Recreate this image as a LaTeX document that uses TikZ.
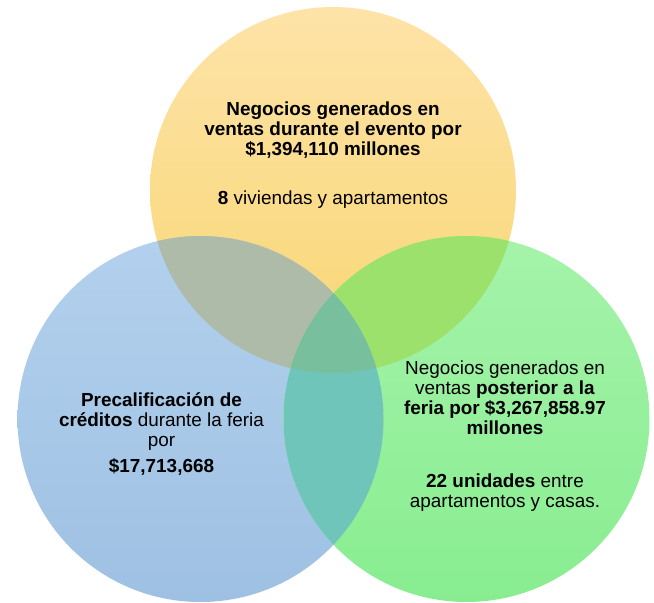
\documentclass[tikz,border=0pt]{standalone}
\usepackage{fontspec}
\setmainfont{Liberation Sans}
\definecolor{ytop}{HTML}{FEE3A8}
\definecolor{ybot}{HTML}{F8D672}
\definecolor{btop}{HTML}{B3D1EE}
\definecolor{bbot}{HTML}{9EC0E2}
\definecolor{gtop}{HTML}{A5F3AA}
\definecolor{gbot}{HTML}{88ED90}
\definecolor{yb}{HTML}{AEBBA8}
\definecolor{yg}{HTML}{9CE16B}
\definecolor{bg}{HTML}{70C5BA}
\definecolor{ybg}{HTML}{78BF9E}
\tikzset{
  txt/.style={align=center, inner sep=0pt, text=black, font=\fontsize{18.9}{20}\selectfont},
}
\begin{document}
\begin{tikzpicture}[x=1pt,y=1pt]
\useasboundingbox (0,0) rectangle (654,603);
\def\R{183}
\coordinate (cy) at (333,413);
\coordinate (cb) at (200.5,184);
\coordinate (cg) at (466.5,184);
% circles
\shade[top color=ytop, bottom color=ybot] (cy) circle (\R);
\shade[top color=btop, bottom color=bbot] (cb) circle (\R);
\shade[top color=gtop, bottom color=gbot] (cg) circle (\R);
% pairwise overlaps
\begin{scope}
  \clip (cy) circle (\R);
  \fill[yb] (cb) circle (\R);
\end{scope}
\begin{scope}
  \clip (cy) circle (\R);
  \fill[yg] (cg) circle (\R);
\end{scope}
\begin{scope}
  \clip (cb) circle (\R);
  \fill[bg] (cg) circle (\R);
\end{scope}
% triple overlap
\begin{scope}
  \clip (cy) circle (\R);
  \clip (cb) circle (\R);
  \fill[ybg] (cg) circle (\R);
\end{scope}
% texts
\node[txt] (t1) at (333,472.5) {\textbf{Negocios generados en}\\\textbf{ventas durante el evento por}\\\textbf{\$1,394,110 millones}};
\node[txt] (t2) at (333,403) {\textbf{8} viviendas y apartamentos};
\node[txt] (l1) at (161.5,181.5) {\textbf{Precalificación de}\\\textbf{créditos} durante la feria\\por};
\node[txt] (l2) at (161.5,136) {\textbf{\$17,713,668}};
\node[txt] (r1) at (505,205.5) {Negocios generados en\\ventas \textbf{posterior a la}\\\textbf{feria por \$3,267,858.97}\\\textbf{millones}};
\node[txt] (r2) at (505,110.5) {\textbf{22 unidades} entre\\apartamentos y casas.};
\end{tikzpicture}
\end{document}
